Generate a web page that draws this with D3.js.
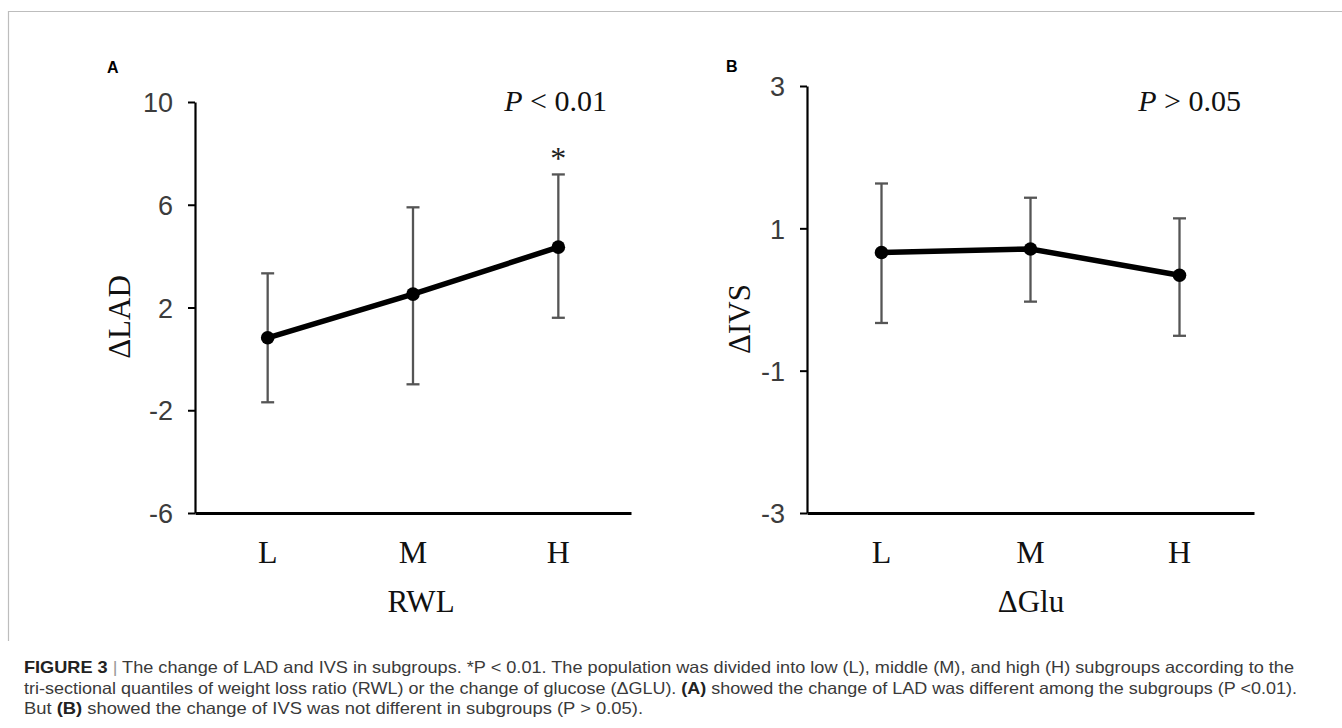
<!DOCTYPE html>
<html>
<head>
<meta charset="utf-8">
<script src="https://cdn.jsdelivr.net/npm/d3@7"></script>
<style>
  body { margin: 0; background: #fff; }
  svg { display: block; }
</style>
</head>
<body>
<script>
// subgroup categories
var cats = ["L", "M", "H"];

// panel A: change of LAD by RWL subgroup (mean, lower, upper)
var ladMean = [0.82, 2.52, 4.35];
var ladLow  = [-1.69, -0.99, 1.6];
var ladHigh = [3.33, 5.9, 7.18];
var ladTicks = [10, 6, 2, -2, -6];

// panel B: change of IVS by glucose subgroup
var ivsMean = [0.66, 0.71, 0.34];
var ivsLow  = [-0.33, -0.03, -0.51];
var ivsHigh = [1.63, 1.43, 1.14];
var ivsTicks = [3, 1, -1, -3];

var width = 1342, height = 728;

var svg = d3.select("body").append("svg")
    .attr("width", width)
    .attr("height", height);

// figure frame (top + left)
svg.append("line")
    .attr("x1", 8).attr("x2", width).attr("y1", 11.5).attr("y2", 11.5)
    .style("stroke", "#bdbdbd").style("stroke-width", 1.2);
svg.append("line")
    .attr("x1", 8.5).attr("x2", 8.5).attr("y1", 11).attr("y2", 641)
    .style("stroke", "#bdbdbd").style("stroke-width", 1.2);

var serif = "'Liberation Serif', 'Times New Roman', serif";
var sans = "'Liberation Sans', Arial, sans-serif";

function drawPanel(p) {
    var x = d3.scaleBand().domain(cats).range([p.left, p.right]);
    var y = d3.scaleLinear().domain(d3.extent(p.ticks)).range([p.bottom, p.top]);

    var data = cats.map(function(c, i) {
        return {cat: c, mean: p.mean[i], low: p.low[i], high: p.high[i]};
    });

    // panel letter
    svg.append("text")
        .attr("x", p.letterX)
        .attr("y", p.letterY)
        .style("font-family", sans)
        .style("font-weight", 700)
        .style("font-size", "16px")
        .text(p.letter);

    // y axis
    var yAxis = svg.append("g")
        .attr("transform", "translate(" + p.left + ",0)")
        .call(d3.axisLeft(y).tickValues(p.ticks)
            .tickFormat(function(d) { return String(d); })
            .tickSize(7).tickSizeOuter(0).tickPadding(15));
    yAxis.select(".domain").style("stroke", "#000").style("stroke-width", 2.2);
    yAxis.selectAll(".tick line").style("stroke", "#000").style("stroke-width", 2);
    yAxis.selectAll(".tick text")
        .style("font-family", sans)
        .style("font-size", "27px")
        .style("fill", "#3c3c3c")
        .attr("dy", "0.36em");

    // x axis
    var xAxis = svg.append("g")
        .attr("transform", "translate(0," + p.bottom + ")")
        .call(d3.axisBottom(x).tickSize(0).tickSizeOuter(0));
    xAxis.select(".domain").style("stroke", "#000").style("stroke-width", 3.2);
    xAxis.selectAll(".tick text")
        .attr("y", 50)
        .attr("dy", 0)
        .style("font-family", serif)
        .style("font-size", "32px")
        .style("fill", "#111");

    // axis titles
    svg.append("text")
        .attr("transform", "translate(" + p.yTitleX + "," + p.yTitleY + ") rotate(-90)")
        .style("text-anchor", "middle")
        .style("font-family", serif)
        .style("font-size", "31px")
        .style("fill", "#111")
        .text(p.yTitle);

    svg.append("text")
        .attr("x", p.xTitleX)
        .attr("y", 612)
        .style("text-anchor", "middle")
        .style("font-family", serif)
        .style("font-size", "31px")
        .style("fill", "#111")
        .text(p.xTitle);

    // P value
    var pt = svg.append("text")
        .attr("x", p.pX)
        .attr("y", 111)
        .style("text-anchor", "end")
        .style("font-family", serif)
        .style("font-size", "30px")
        .style("fill", "#111");
    pt.append("tspan").style("font-style", "italic").text("P");
    pt.append("tspan").text(" " + p.pText);

    var cx = function(d) { return x(d.cat) + x.bandwidth() / 2; };

    // error bars
    var eb = svg.append("g").selectAll("g").data(data).enter().append("g")
        .style("stroke", "#555")
        .style("stroke-width", 2.3);
    eb.append("line")
        .attr("x1", cx).attr("x2", cx)
        .attr("y1", function(d) { return y(d.low); })
        .attr("y2", function(d) { return y(d.high); });
    eb.append("line")
        .attr("x1", function(d) { return cx(d) - 6.5; })
        .attr("x2", function(d) { return cx(d) + 6.5; })
        .attr("y1", function(d) { return y(d.high); })
        .attr("y2", function(d) { return y(d.high); });
    eb.append("line")
        .attr("x1", function(d) { return cx(d) - 6.5; })
        .attr("x2", function(d) { return cx(d) + 6.5; })
        .attr("y1", function(d) { return y(d.low); })
        .attr("y2", function(d) { return y(d.low); });

    // mean line
    var line = d3.line()
        .x(cx)
        .y(function(d) { return y(d.mean); });
    svg.append("path")
        .datum(data)
        .attr("d", line)
        .style("fill", "none")
        .style("stroke", "#000")
        .style("stroke-width", 5.5);

    svg.append("g").selectAll("circle").data(data).enter().append("circle")
        .attr("cx", cx)
        .attr("cy", function(d) { return y(d.mean); })
        .attr("r", 6.8)
        .style("fill", "#000");

    // significance star
    if (p.star) {
        var sd = data[cats.indexOf(p.star)];
        svg.append("text")
            .attr("x", cx(sd))
            .attr("y", y(sd.high) - 5)
            .style("text-anchor", "middle")
            .style("font-family", serif)
            .style("font-size", "32px")
            .style("fill", "#222")
            .text("*");
    }
}

drawPanel({
    left: 195, right: 631, top: 102, bottom: 513,
    ticks: ladTicks, mean: ladMean, low: ladLow, high: ladHigh,
    letter: "A", letterX: 107, letterY: 73,
    yTitle: "\u0394LAD", yTitleX: 130, yTitleY: 317,
    xTitle: "RWL", xTitleX: 421,
    pX: 607, pText: "< 0.01",
    star: "H"
});

drawPanel({
    left: 807, right: 1254, top: 86, bottom: 513,
    ticks: ivsTicks, mean: ivsMean, low: ivsLow, high: ivsHigh,
    letter: "B", letterX: 726, letterY: 72,
    yTitle: "\u0394IVS", yTitleX: 750, yTitleY: 319,
    xTitle: "\u0394Glu", xTitleX: 1031,
    pX: 1241, pText: "> 0.05",
    star: null
});

// caption
var cap = svg.append("g")
    .style("font-family", sans)
    .style("font-size", "16.5px")
    .style("fill", "#3a3a3a");

var l1 = cap.append("text").attr("x", 24).attr("y", 673)
    .attr("textLength", 1270).attr("lengthAdjust", "spacingAndGlyphs");
l1.append("tspan").style("font-weight", 700).style("fill", "#222").text("FIGURE 3");
l1.append("tspan").style("fill", "#999").text(" | ");
l1.append("tspan").text("The change of LAD and IVS in subgroups. *P < 0.01. The population was divided into low (L), middle (M), and high (H) subgroups according to the");

var l2 = cap.append("text").attr("x", 24).attr("y", 694)
    .attr("textLength", 1273).attr("lengthAdjust", "spacingAndGlyphs");
l2.append("tspan").text("tri-sectional quantiles of weight loss ratio (RWL) or the change of glucose (\u0394GLU). ");
l2.append("tspan").style("font-weight", 700).style("fill", "#222").text("(A)");
l2.append("tspan").text(" showed the change of LAD was different among the subgroups (P <0.01).");

var l3 = cap.append("text").attr("x", 24).attr("y", 714)
    .attr("textLength", 619).attr("lengthAdjust", "spacingAndGlyphs");
l3.append("tspan").text("But ");
l3.append("tspan").style("font-weight", 700).style("fill", "#222").text("(B)");
l3.append("tspan").text(" showed the change of IVS was not different in subgroups (P > 0.05).");
</script>
</body>
</html>
